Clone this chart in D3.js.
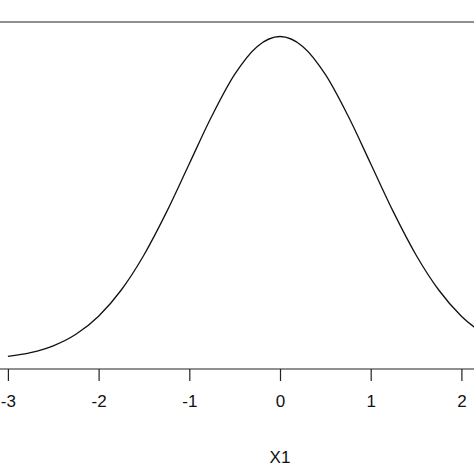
<!DOCTYPE html>
<html>
<head>
<meta charset="UTF-8">
<script src="https://d3js.org/d3.v7.min.js"></script>
<style>
  body { margin: 0; background: #fff; overflow: hidden; }
  text { font-family: "Liberation Sans", Arial, sans-serif; }
</style>
</head>
<body>
<div id="chart"></div>
<script>
    // values
    const xs = [-3, -2.75, -2.5, -2.25, -2, -1.75, -1.5, -1.25, -1, -0.75, -0.5, -0.25, 0,
                0.25, 0.5, 0.75, 1, 1.25, 1.5, 1.75, 2, 2.25];
    const dens = [0.0044, 0.0091, 0.0175, 0.0317, 0.054, 0.0863, 0.1295, 0.1826, 0.242, 0.3011,
                  0.3521, 0.3867, 0.3989, 0.3867, 0.3521, 0.3011, 0.242, 0.1826, 0.1295, 0.0863,
                  0.054, 0.0317];
    const ticks = [-3, -2, -1, 0, 1, 2];
    const xLabel = "X1";

    const W = 474, H = 474;
    const svg = d3.select("#chart").append("svg").attr("width", W).attr("height", H);

    const x = d3.scaleLinear().domain([0, 1]).range([280, 370.7]);
    const y = d3.scaleLinear().domain([0, 0.4]).range([360, 35.6]);

    // box top
    svg.append("line").attr("x1", 0).attr("x2", W).attr("y1", 22).attr("y2", 22)
        .attr("stroke", "#222").attr("stroke-width", 1.2);

    const line = d3.line().x((d, i) => x(xs[i])).y(d => y(d)).curve(d3.curveMonotoneX);
    svg.append("path").datum(dens).attr("d", line)
        .attr("fill", "none").attr("stroke", "#111").attr("stroke-width", 1.3);

    const axis = svg.append("g").attr("transform", "translate(0,369)")
        .call(d3.axisBottom(x).tickValues(ticks).tickSize(12).tickPadding(14).tickFormat(d3.format("d")));
    axis.select(".domain").remove();
    axis.append("line").attr("x1", 0).attr("x2", W).attr("stroke", "#222").attr("stroke-width", 1.2);
    axis.selectAll(".tick line").attr("stroke", "#222").attr("stroke-width", 1.2);
    axis.selectAll(".tick text").attr("font-size", 17).attr("fill", "#111")
        .style("font-family", "'Liberation Sans', Arial, sans-serif")
        .text(d => d < 0 ? "-" + Math.abs(d) : d);

    svg.append("text").attr("x", x(0)).attr("y", 463).attr("text-anchor", "middle")
        .attr("font-size", 17).attr("fill", "#111").text(xLabel);
</script>
</body>
</html>
